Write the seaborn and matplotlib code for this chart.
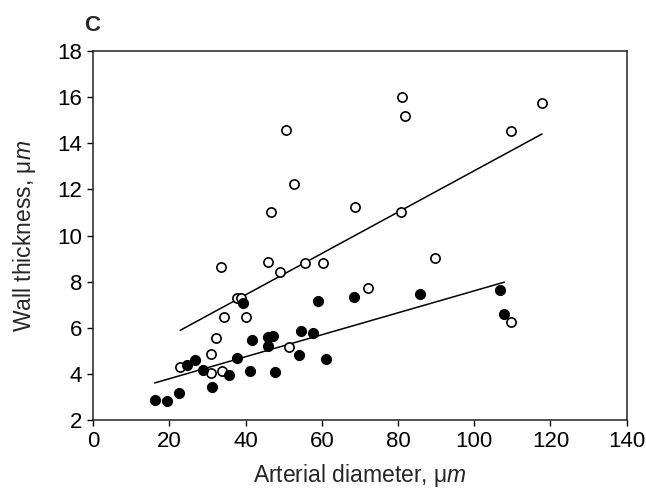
import matplotlib
matplotlib.use("Agg")
import matplotlib.pyplot as plt
import seaborn as sns
import numpy as np

open_x = [33.6, 37.8, 38.7, 34.4, 40.0, 32.2, 31.0, 22.8, 31.0, 33.8, 45.8, 49.1, 55.5, 60.4,
          51.3, 72.1, 89.6, 50.7, 52.7, 46.7, 68.8, 81.1, 81.9, 80.9, 117.8, 109.6, 109.6]
open_y = [8.62, 7.30, 7.30, 6.48, 6.48, 5.54, 4.86, 4.28, 4.05, 4.14, 8.86, 8.40, 8.79, 8.79,
          5.15, 7.71, 9.01, 14.57, 12.23, 11.0, 11.23, 15.99, 15.2, 11.0, 15.76, 14.53, 6.26]

filled_x = [16.1, 19.3, 22.6, 31.1, 24.6, 26.8, 28.9, 35.7, 37.8, 39.4, 41.6, 45.9, 47.2, 45.9,
            54.4, 57.8, 59.0, 54.1, 61.0, 41.1, 47.8, 68.5, 85.7, 106.8, 107.9]
filled_y = [2.87, 2.82, 3.16, 3.43, 4.38, 4.60, 4.17, 3.95, 4.70, 7.06, 5.47, 5.58, 5.64, 5.21,
            5.87, 5.76, 7.17, 4.80, 4.63, 4.12, 4.07, 7.35, 7.45, 7.64, 6.58]

x_ticks = [0, 20, 40, 60, 80, 100, 120, 140]
y_ticks = [2, 4, 6, 8, 10, 12, 14, 16, 18]

sns.set_theme(style="ticks")
plt.rcParams['font.family'] = ['Liberation Sans', 'DejaVu Sans']
plt.rcParams['mathtext.fontset'] = 'custom'
plt.rcParams['mathtext.rm'] = 'Liberation Sans'
plt.rcParams['mathtext.it'] = 'Liberation Sans:italic'

fig = plt.figure(figsize=(6.46, 4.92), dpi=100)
ax = fig.add_axes([0.1444, 0.1463, 0.8256, 0.75])

line_kws = dict(color="black", lw=1.1, zorder=2)
sns.regplot(x=open_x, y=open_y, ci=None, scatter=False, line_kws=line_kws, ax=ax)
sns.regplot(x=filled_x, y=filled_y, ci=None, scatter=False, line_kws=line_kws, ax=ax)

sns.scatterplot(x=open_x, y=open_y, ax=ax, s=44, facecolor="white", edgecolor="black",
                linewidth=1.2, zorder=3)
sns.scatterplot(x=filled_x, y=filled_y, ax=ax, s=52, facecolor="black", edgecolor="black",
                linewidth=0.8, zorder=4)

ax.set_xlim(0, 140)
ax.set_ylim(2, 18)
ax.set_xticks(x_ticks)
ax.set_yticks(y_ticks)
ax.tick_params(direction="out", length=4, width=1, labelsize=16, colors="black", pad=4)
for sp in ax.spines.values():
    sp.set_visible(True)
    sp.set_linewidth(1.1)
    sp.set_color("#222222")
ax.set_xlabel("Arterial diameter, μ$\\mathit{m}$", fontsize=16.5, labelpad=7)
ax.set_ylabel("Wall thickness, μ$\\mathit{m}$", fontsize=16.5, labelpad=14)
fig.text(0.143, 0.949, "C", fontsize=16, fontweight="bold", ha="center", va="center")

fig.savefig("out.png", dpi=100)
